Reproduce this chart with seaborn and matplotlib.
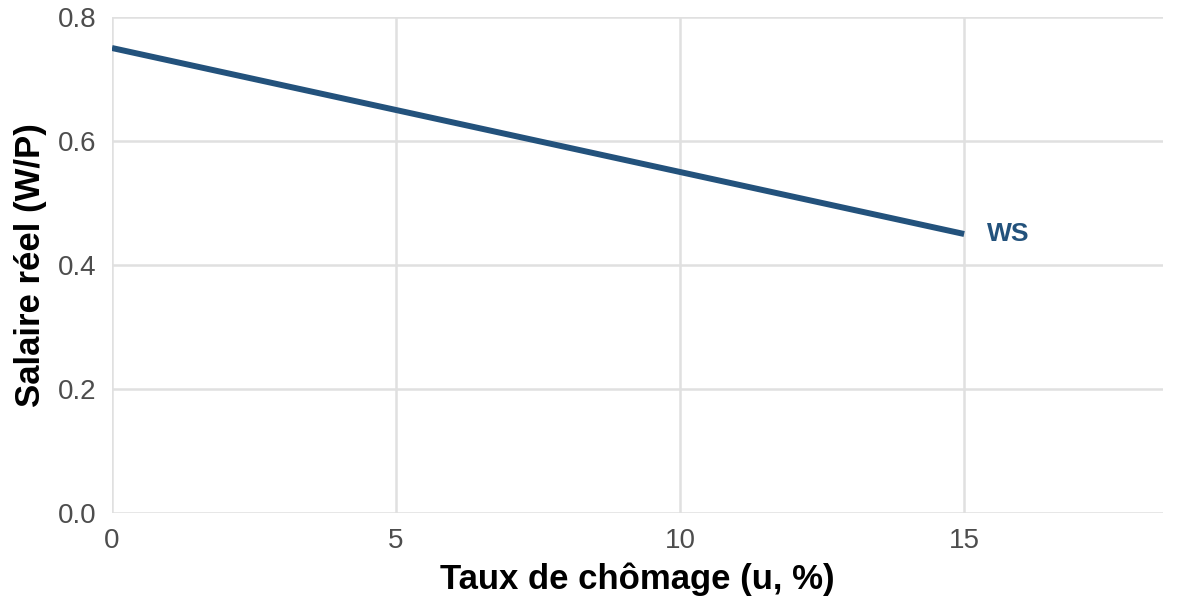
import seaborn as sns
import matplotlib.pyplot as plt
import pandas as pd

# données de la courbe WS
u = [0, 15]
wp = [0.75, 0.45]
label_ws = "WS"
xticks = [0, 5, 10, 15]
yticks = [0.0, 0.2, 0.4, 0.6, 0.8]

sns.set_theme(style="whitegrid")
plt.rcParams['font.family'] = ['Liberation Sans', 'DejaVu Sans']

df = pd.DataFrame({"u": u, "wp": wp})
couleur = "#23527c"

fig = plt.figure(figsize=(11.9, 6.14), dpi=100)
ax = fig.add_axes([0.0941, 0.1645, 0.9773 - 0.0941, 0.9723 - 0.1645])
sns.lineplot(data=df, x="u", y="wp", color=couleur, linewidth=4.3,
             solid_capstyle="butt", ax=ax)

ax.text(15.4, 0.45, label_ws, color=couleur, fontsize=19, fontweight="bold",
        va="center", ha="left")

ax.set_xlim(0, 18.5)
ax.set_ylim(0, 0.8)
ax.set_xticks(xticks)
ax.set_yticks(yticks)
ax.set_yticklabels([f"{v:.1f}" for v in yticks])
ax.grid(True, color="#e0e0e0", linewidth=1.8)
for s in ax.spines.values():
    s.set_visible(False)
ax.tick_params(axis="both", labelsize=20, labelcolor="#4d4d4d", length=0, pad=11)
ax.set_xlabel("Taux de chômage (u, %)", fontsize=25, fontweight="bold", color="black", labelpad=6)
ax.set_ylabel("Salaire réel (W/P)", fontsize=25, fontweight="bold", color="black", labelpad=8)

fig.savefig("out.png", dpi=100)
